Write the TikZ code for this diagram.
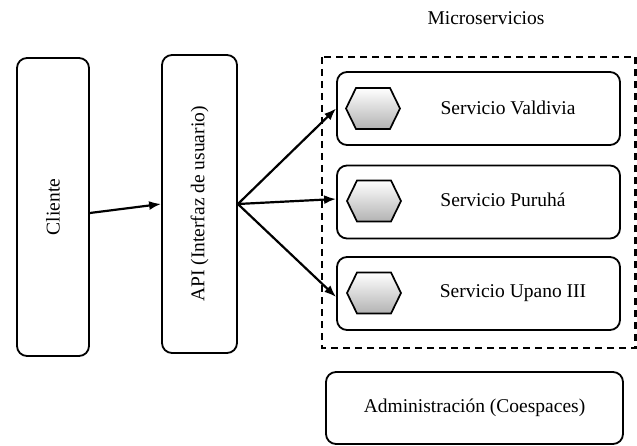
\documentclass[tikz,border=0pt]{standalone}
\usepackage{fontspec}
\setmainfont{Liberation Serif}
\usepackage{tikz}
\usetikzlibrary{arrows.meta, calc, positioning, shadings}

\tikzset{
	box/.style={draw, line width=1.8pt, rounded corners=10pt, inner sep=0pt},
	arr/.style={line width=2.2pt, -{Latex[length=12pt, width=9pt]}},
	txt/.style={font=\fontsize{19.5}{23}\selectfont, inner sep=0pt},
}
\newcommand{\hexa}[1]{%
	\draw[line width=1.7pt, top color=white, bottom color=black!30] ($(#1)+(-27,0)$) -- ($(#1)+(-17,-20.5)$) -- ($(#1)+(17,-20.5)$) -- ($(#1)+(27,0)$) -- ($(#1)+(17,20.5)$) -- ($(#1)+(-17,20.5)$) -- cycle;%
}

\begin{document}
\begin{tikzpicture}[x=1pt, y=-1pt]
\useasboundingbox (0,0) rectangle (637,446);
\pgfmathsetmacro{\srvW}{283}
\pgfmathsetmacro{\srvH}{73}

% Draw left boxes
\node[box, minimum width=72pt, minimum height=298pt] (cli) at (53,207) {\rotatebox{90}{\fontsize{19.5}{23}\selectfont Cliente}};
\node[box, minimum width=75pt, minimum height=298pt] (api) at (199.5,204) {\rotatebox{90}{\fontsize{19.5}{23}\selectfont API (Interfaz de usuario)}};

% Draw microservice group
\draw[dashed, line width=2.2pt, dash pattern=on 7pt off 5pt] (322,57) rectangle (635.5,348);
\node[txt] (micro) at (486,18) {Microservicios};

\node[box, minimum width=\srvW pt, minimum height=\srvH pt] (sv) at (478.5,108.5) {};
\node[box, minimum width=\srvW pt, minimum height=\srvH pt] (sp) at (478.5,202) {};
\node[box, minimum width=\srvW pt, minimum height=\srvH pt] (su) at (478.5,293.5) {};
\node[txt] (svt) at (508,108) {Servicio Valdivia};
\node[txt] (spt) at (503,200) {Servicio Puruhá};
\node[txt] (sut) at (513,293) {Servicio Upano III};

% Draw hexagons
\hexa{373,108.5}
\hexa{374,201}
\hexa{374,293}

% Draw admin box
\node[box, minimum width=297pt, minimum height=72pt] (adm) at (474.5,408) {};
\node[txt] (admt) at (adm.center) {Administración (Coespaces)};

% Draw arrows
\draw[arr] ([yshift=-6pt]cli.east) -- (api.west);
\draw[arr] (api.east) -- (sv.west);
\draw[arr] (api.east) -- ([yshift=3pt]sp.west);
\draw[arr] (api.east) -- ([yshift=-3.5pt]su.west);
\end{tikzpicture}
\end{document}
